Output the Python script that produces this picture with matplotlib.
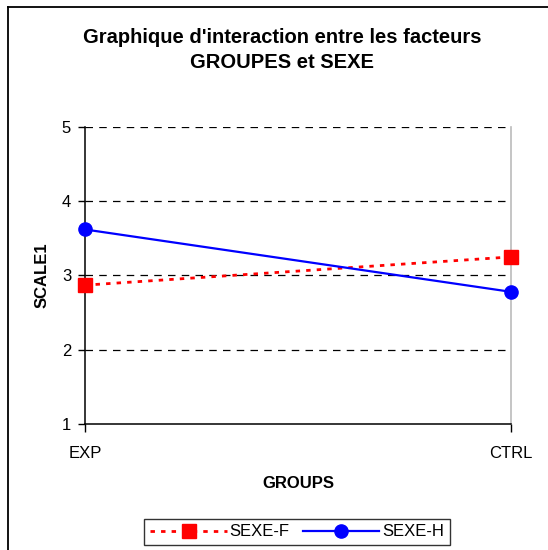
import matplotlib
matplotlib.use('Agg')
import matplotlib.pyplot as plt
from matplotlib.lines import Line2D

plt.rcParams['font.family'] = ['Liberation Sans', 'DejaVu Sans']

groups = ['EXP', 'CTRL']
sexe_f = [2.87, 3.25]
sexe_h = [3.62, 2.78]
y_ticks = [1, 2, 3, 4, 5]

W, H = 548, 550
fig = plt.figure(figsize=(W / 100, H / 100), dpi=100)
ax = fig.add_axes([85 / W, 1 - 424 / H, (511 - 85) / W, (424 - 127) / H])

x = list(range(len(groups)))
for yv in y_ticks[1:]:
    ax.axhline(yv, color='black', lw=0.9, ls=(0, (6, 5)), zorder=1)

ax.plot(x, sexe_f, color='red', lw=2.0, ls=(0, (1.6, 2.2)), marker='s',
        ms=9.5, mec='red', mfc='red', label='SEXE-F', zorder=3, clip_on=False)
ax.plot(x, sexe_h, color='blue', lw=1.6, marker='o', ms=9.5,
        mec='blue', mfc='blue', label='SEXE-H', zorder=3, clip_on=False)

ax.set_xlim(0, 1)
ax.set_ylim(1, 5)
ax.set_xticks(x)
ax.set_xticklabels(groups, fontsize=12)
ax.set_yticks(y_ticks)
ax.set_yticklabels([str(v) for v in y_ticks], fontsize=12)
ax.tick_params(axis='x', direction='out', length=6, width=1, pad=10)
ax.tick_params(axis='y', direction='out', length=5, width=1, pad=5)
for s in ('left', 'bottom'):
    ax.spines[s].set_color('black')
    ax.spines[s].set_linewidth(1.1)
ax.spines['right'].set_color('#bbbbbb')
ax.spines['right'].set_linewidth(1.2)
ax.spines['top'].set_visible(False)

ax.set_xlabel('GROUPS', fontsize=12, fontweight='bold', labelpad=11)
ax.set_ylabel('SCALE1', fontsize=12, fontweight='bold', labelpad=9)

fig.text(282 / W, 1 - 50 / H, "Graphique d'interaction entre les facteurs\nGROUPES et SEXE",
         ha='center', va='center', fontsize=14.5, fontweight='bold', linespacing=1.35)

leg = fig.legend(loc='center', bbox_to_anchor=(297 / W, 1 - 532 / H), ncol=2,
                 fontsize=12, frameon=True, fancybox=False, edgecolor='black',
                 handlelength=4.6, handletextpad=0.15, columnspacing=0.8,
                 borderpad=0.35, borderaxespad=0)
leg.get_frame().set_linewidth(1.0)

# cadre extérieur (gauche + haut)
fig.add_artist(Line2D([8 / W, 8 / W], [0, 1 - 7 / H], transform=fig.transFigure,
                      color='black', lw=1.3))
fig.add_artist(Line2D([8 / W, 1], [1 - 7 / H, 1 - 7 / H], transform=fig.transFigure,
                      color='black', lw=1.3))

fig.savefig('out.png', dpi=100)
